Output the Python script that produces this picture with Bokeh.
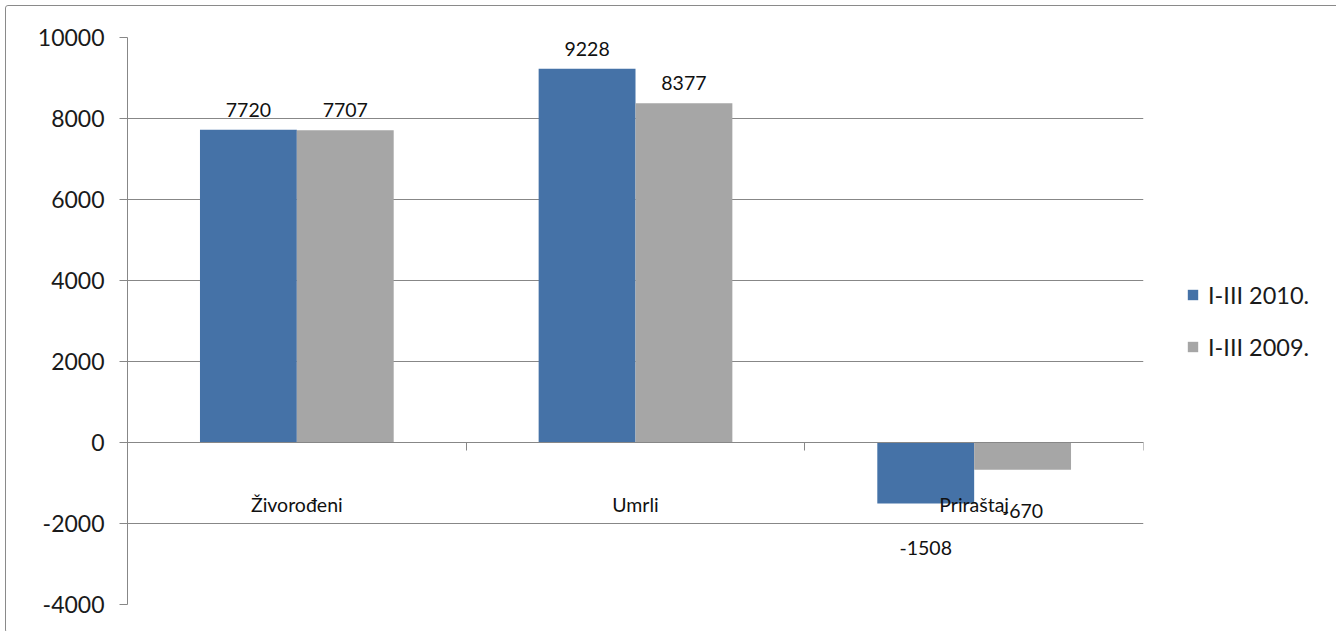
from bokeh.plotting import figure
from bokeh.models import (ColumnDataSource, Range1d, FixedTicker, Legend, LegendItem)
from bokeh.core.properties import value
from bokeh.embed import file_html
from bokeh.resources import INLINE

categories = ["Živorođeni", "Umrli", "Priraštaj"]
series_2010 = [7720, 9228, -1508]
series_2009 = [7707, 8377, -670]
series_names = ["I-III 2010.", "I-III 2009."]
y_ticks = [-4000, -2000, 0, 2000, 4000, 6000, 8000, 10000]

BLUE = "#4572A7"
GRAY = "#A6A6A6"
AXIS = "#878787"
FONT = "Lato"

p = figure(width=1323, height=626, output_backend="svg", toolbar_location=None,
           x_range=Range1d(0, len(categories)), y_range=Range1d(-4000, 10000),
           min_border_left=121, min_border_top=31, min_border_right=186, min_border_bottom=28)
p.frame_width = 1016
p.frame_height = 567
p.outline_line_color = None
p.background_fill_color = "white"
p.border_fill_color = "white"
p.styles = {"border": "1px solid #8a8a8a", "border-radius": "3px",
            "margin-left": "5px", "margin-top": "5px"}

bw = 0.286
centers = [i + 0.5 for i in range(len(categories))]
src1 = ColumnDataSource(dict(x=[c - bw / 2 for c in centers], top=series_2010,
                             lbl=[str(v) for v in series_2010],
                             off=[-20 if v >= 0 else 44 for v in series_2010]))
src2 = ColumnDataSource(dict(x=[c + bw / 2 for c in centers], top=series_2009,
                             lbl=[str(v) for v in series_2009],
                             off=[-20 if v >= 0 else 41 for v in series_2009]))

r1 = p.vbar(x="x", top="top", bottom=0, width=bw, source=src1, fill_color=BLUE, line_color=None)
r2 = p.vbar(x="x", top="top", bottom=0, width=bw, source=src2, fill_color=GRAY, line_color=None)

for s in (src1, src2):
    p.text(x="x", y="top", text="lbl", y_offset="off", source=s, text_align="center",
           text_baseline="middle", text_font=value(FONT), text_font_size="19.5px",
           text_color="#111111")

# category labels under the zero axis
csrc = ColumnDataSource(dict(x=centers, y=[0] * len(categories), t=categories))
p.text(x="x", y="y", text="t", source=csrc, y_offset=62, text_align="center",
       text_baseline="middle", text_font=value(FONT), text_font_size="19.5px",
       text_color="#111111")

# axes
p.xgrid.visible = False
p.ygrid.grid_line_color = AXIS
p.ygrid.grid_line_width = 1
p.ygrid.ticker = FixedTicker(ticks=y_ticks)

p.yaxis.ticker = FixedTicker(ticks=y_ticks)
p.yaxis.major_label_overrides = {t: str(t) for t in y_ticks}
p.yaxis.axis_line_color = AXIS
p.yaxis.major_tick_line_color = AXIS
p.yaxis.major_tick_out = 8
p.yaxis.major_tick_in = 0
p.yaxis.minor_tick_line_color = None
p.yaxis.major_label_text_font = FONT
p.yaxis.major_label_text_font_size = "23px"
p.yaxis.major_label_text_color = "#1a1a1a"
p.yaxis.major_label_standoff = 15

x_ticks = list(range(len(categories) + 1))
p.xaxis.fixed_location = 0
p.xaxis.ticker = FixedTicker(ticks=x_ticks)
p.xaxis.major_label_overrides = {t: "" for t in x_ticks}
p.xaxis.major_label_standoff = 0
p.xaxis.axis_line_color = AXIS
p.xaxis.major_tick_line_color = AXIS
p.xaxis.major_tick_out = 8
p.xaxis.major_tick_in = 0
p.xaxis.minor_tick_line_color = None

legend = Legend(items=[LegendItem(label=series_names[0], renderers=[r1]),
                       LegendItem(label=series_names[1], renderers=[r2])],
                location="left", orientation="vertical")
legend.border_line_color = None
legend.background_fill_color = None
legend.label_text_font = FONT
legend.label_text_font_size = "23.5px"
legend.label_text_color = "#1a1a1a"
legend.glyph_width = 13
legend.glyph_height = 13
legend.label_height = 22
legend.spacing = 24
legend.label_standoff = 9
legend.padding = 0
legend.margin = 43
p.add_layout(legend, "right")

open("out.html", "w").write(file_html(p, INLINE))
